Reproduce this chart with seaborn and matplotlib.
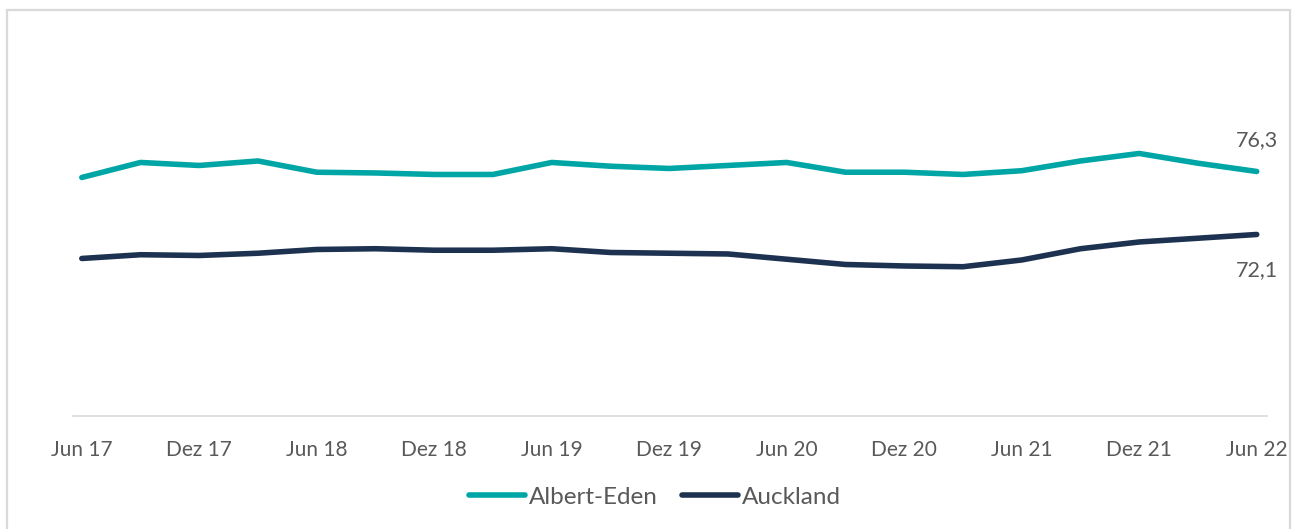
import numpy as np
import pandas as pd
import seaborn as sns
import matplotlib.pyplot as plt
from matplotlib.patches import Rectangle

# quarterly values Jun 17 .. Jun 22
albert_eden = [75.9, 76.9, 76.7, 77.0, 76.25, 76.2, 76.1, 76.1, 76.9, 76.65, 76.5,
               76.7, 76.9, 76.25, 76.25, 76.1, 76.35, 77.0, 77.5, 76.85, 76.3]
auckland = [70.5, 70.75, 70.7, 70.85, 71.1, 71.15, 71.05, 71.05, 71.15, 70.9, 70.85,
            70.8, 70.45, 70.1, 70.0, 69.95, 70.4, 71.15, 71.6, 71.85, 72.1]
tick_labels = ["Jun 17", "Dez 17", "Jun 18", "Dez 18", "Jun 19", "Dez 19",
               "Jun 20", "Dez 20", "Jun 21", "Dez 21", "Jun 22"]
series_names = ["Albert-Eden", "Auckland"]
end_labels = ["76,3", "72,1"]

teal = "#00A6A6"
navy = "#1C3250"
grey_txt = "#595959"
grey_line = "#D9D9D9"

n = len(albert_eden)
df = pd.DataFrame({
    "q": list(range(n)) * 2,
    "valor": albert_eden + auckland,
    "serie": [series_names[0]] * n + [series_names[1]] * n,
})

sns.set_style("white")
plt.rcParams["font.family"] = ["Lato", "DejaVu Sans"]

fig = plt.figure(figsize=(12.98, 5.29), dpi=100)
ax = fig.add_axes([73 / 1298, 113 / 529, 1194 / 1298, 386 / 529])

sns.lineplot(data=df, x="q", y="valor", hue="serie", palette=[teal, navy],
             linewidth=4, ax=ax, legend=True, solid_capstyle="round",
             solid_joinstyle="round")

ax.set_xlim(-0.148, 20.175)
ax.set_ylim(60, 85.73)
ax.set_xlabel("")
ax.set_ylabel("")
ax.set_yticks([])

# labels at data points, tick marks slightly left (like the Excel date axis)
ax.set_xticks(np.arange(0, n, 2))
ax.set_xticklabels(tick_labels, fontsize=15, color=grey_txt)
ax.tick_params(axis="x", which="major", length=0, pad=17)
ax.set_xticks(np.arange(0, n, 2) - 0.15, minor=True)
ax.tick_params(axis="x", which="minor", length=5, width=1, color=grey_line)

for s in ["top", "right", "left"]:
    ax.spines[s].set_visible(False)
ax.spines["bottom"].set_color(grey_line)
ax.spines["bottom"].set_linewidth(1.2)

# end values
ax.annotate(end_labels[0], (n - 1, albert_eden[-1]), xytext=(0, 22.5),
            textcoords="offset points", ha="center", va="center",
            fontsize=15.5, color=grey_txt)
ax.annotate(end_labels[1], (n - 1, auckland[-1]), xytext=(0, -26),
            textcoords="offset points", ha="center", va="center",
            fontsize=15.5, color=grey_txt)

leg = ax.legend(loc="center", bbox_to_anchor=(655 / 1298, 32 / 529),
                bbox_transform=fig.transFigure, ncol=2, frameon=False,
                fontsize=17.5, handlelength=2.3, handletextpad=0.16,
                columnspacing=1.0, borderpad=0)
for t in leg.get_texts():
    t.set_color(grey_txt)
for h in leg.get_lines():
    h.set_linewidth(4)

# outer chart border
fig.add_artist(Rectangle((7 / 1298, -0.02), 1283 / 1298, 1 - 10 / 529 + 0.02,
                         transform=fig.transFigure, fill=False,
                         edgecolor=grey_line, linewidth=1.6, clip_on=False))

fig.savefig("out.png", dpi=100)
